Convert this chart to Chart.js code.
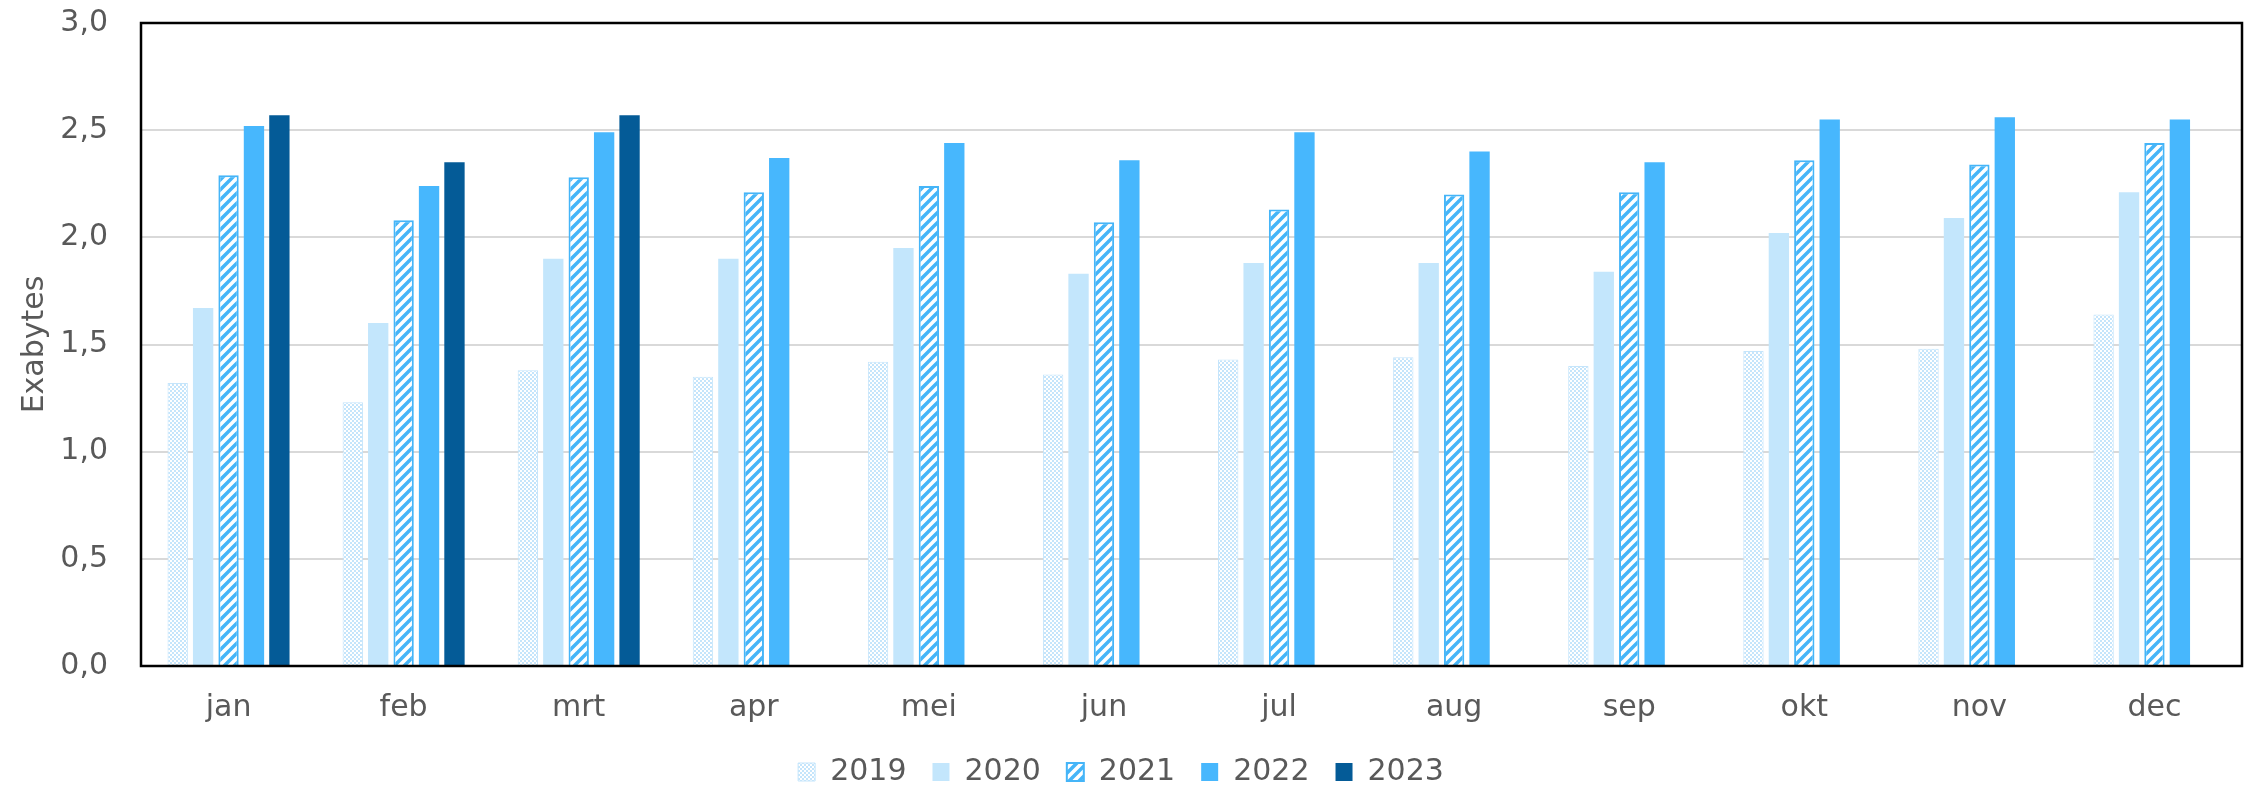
<!DOCTYPE html>
<html>
<head>
<meta charset="utf-8">
<title>Exabytes per maand</title>
<script src="https://cdn.jsdelivr.net/npm/chart.js@4/dist/chart.umd.min.js"></script>
<style>
  body { margin: 0; background: #fff; }
  #wrap { width: 2252px; height: 789px; }
</style>
</head>
<body>
<div id="wrap"><canvas id="dataChart" width="2252" height="789"></canvas></div>
<script>
const months = ['jan', 'feb', 'mrt', 'apr', 'mei', 'jun', 'jul', 'aug', 'sep', 'okt', 'nov', 'dec'];
const years = ['2019', '2020', '2021', '2022', '2023'];

const data2019 = [1.32, 1.23, 1.38, 1.35, 1.42, 1.36, 1.43, 1.44, 1.40, 1.47, 1.48, 1.64];
const data2020 = [1.67, 1.60, 1.90, 1.90, 1.95, 1.83, 1.88, 1.88, 1.84, 2.02, 2.09, 2.21];
const data2021 = [2.29, 2.08, 2.28, 2.21, 2.24, 2.07, 2.13, 2.20, 2.21, 2.36, 2.34, 2.44];
const data2022 = [2.52, 2.24, 2.49, 2.37, 2.44, 2.36, 2.49, 2.40, 2.35, 2.55, 2.56, 2.55];
const data2023 = [2.57, 2.35, 2.57, null, null, null, null, null, null, null, null, null];

const yTicks = [0, 0.5, 1.0, 1.5, 2.0, 2.5, 3.0];

const textColor = '#595959';
const fontFamily = '"DejaVu Sans", Verdana, sans-serif';

function checkerPattern() {
  const c = document.createElement('canvas');
  c.width = 4;
  c.height = 4;
  const g = c.getContext('2d');
  g.fillStyle = '#ffffff';
  g.fillRect(0, 0, 4, 4);
  g.fillStyle = '#C5E5FB';
  g.fillRect(0, 0, 2, 2);
  g.fillRect(2, 2, 2, 2);
  return g.createPattern(c, 'repeat');
}

function stripePattern() {
  const size = 10;
  const c = document.createElement('canvas');
  c.width = size;
  c.height = size;
  const g = c.getContext('2d');
  g.fillStyle = '#ffffff';
  g.fillRect(0, 0, size, size);
  g.strokeStyle = '#45B5F8';
  g.lineWidth = 3.5;
  g.beginPath();
  g.moveTo(-size / 2, size / 2); g.lineTo(size / 2, -size / 2);
  g.moveTo(0, size); g.lineTo(size, 0);
  g.moveTo(size / 2, size * 1.5); g.lineTo(size * 1.5, size / 2);
  g.stroke();
  return g.createPattern(c, 'repeat');
}

// black frame round the plot area, like the original
const plotFrame = {
  id: 'plotFrame',
  afterDatasetsDraw(chart) {
    const { ctx, chartArea: a } = chart;
    ctx.save();
    ctx.strokeStyle = '#000000';
    ctx.lineWidth = 2.5;
    ctx.strokeRect(a.left, a.top, a.right - a.left, a.bottom - a.top);
    ctx.restore();
  }
};

const ctx = document.getElementById('dataChart').getContext('2d');
new Chart(ctx, {
  type: 'bar',
  data: {
    labels: months,
    datasets: [
      { label: years[0], data: data2019, backgroundColor: checkerPattern(), borderColor: '#C5E5FB', borderWidth: 1 },
      { label: years[1], data: data2020, backgroundColor: '#C3E6FC', borderWidth: 0 },
      { label: years[2], data: data2021, backgroundColor: stripePattern(), borderColor: '#45B5F8', borderWidth: 2 },
      { label: years[3], data: data2022, backgroundColor: '#47B7FD', borderWidth: 0 },
      { label: years[4], data: data2023, backgroundColor: '#045B97', borderWidth: 0 }
    ]
  },
  options: {
    responsive: false,
    devicePixelRatio: 1,
    animation: false,
    categoryPercentage: 0.726,
    barPercentage: 0.8,
    layout: { padding: { top: 23, right: 10, bottom: -8, left: 0 } },
    plugins: {
      tooltip: { enabled: false },
      legend: {
        position: 'bottom',
        labels: {
          color: textColor,
          font: { family: fontFamily, size: 30 },
          boxWidth: 17,
          boxHeight: 18,
          padding: 26
        }
      }
    },
    scales: {
      x: {
        grid: { display: false, drawTicks: false },
        border: { display: false },
        ticks: { color: textColor, font: { family: fontFamily, size: 30 }, padding: 24 },
        afterFit(scale) { scale.height = 65; }
      },
      y: {
        min: 0,
        max: 3,
        grid: { color: '#D9D9D9', lineWidth: 2, drawTicks: true, tickLength: 33, tickColor: 'rgba(0,0,0,0)' },
        border: { display: false },
        afterBuildTicks(scale) { scale.ticks = yTicks.map(v => ({ value: v })); },
        ticks: {
          color: textColor,
          font: { family: fontFamily, size: 30 },
          padding: 0,
          callback: v => v.toFixed(1).replace('.', ',')
        },
        title: {
          display: true,
          text: 'Exabytes',
          color: textColor,
          font: { family: fontFamily, size: 30 },
          padding: { top: 17, bottom: 0 }
        },
        afterFit(scale) { scale.width = 141; }
      }
    }
  },
  plugins: [plotFrame]
});
</script>
</body>
</html>
